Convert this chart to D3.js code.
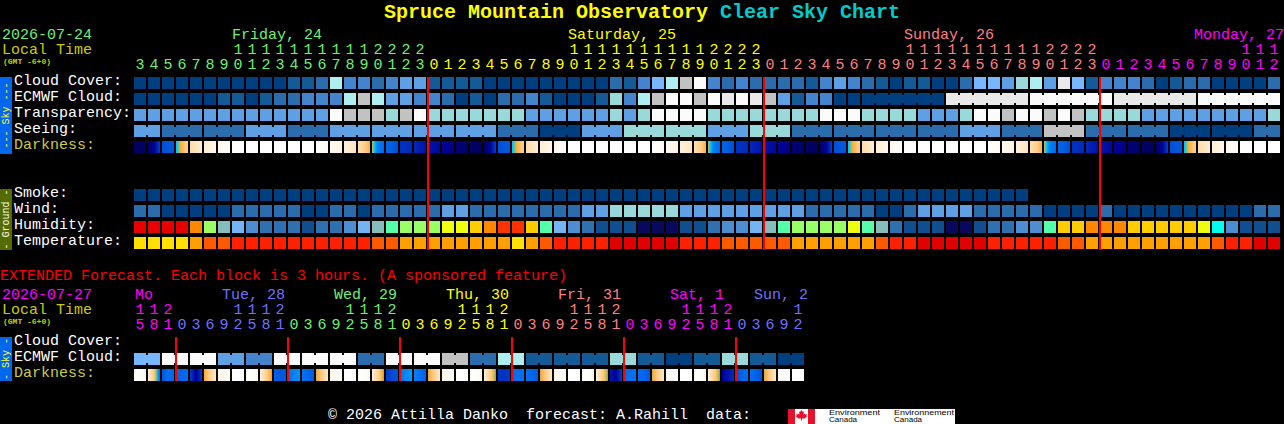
<!DOCTYPE html>
<html><head><meta charset="utf-8">
<script src="https://cdn.jsdelivr.net/npm/d3@7"></script>
<style>
html,body{margin:0;padding:0;background:#000;overflow:hidden}
svg{display:block}
text{font-family:"Liberation Mono",monospace;font-size:15px;white-space:pre;text-rendering:optimizeSpeed}
</style></head><body>
<svg id="c" width="1284" height="424"></svg>
<script>
// ---------- tick labels and categories ----------
const hoursMain=[3,4,5,6,7,8,9,10,11,12,13,14,15,16,17,18,19,20,21,22,23,
0,1,2,3,4,5,6,7,8,9,10,11,12,13,14,15,16,17,18,19,20,21,22,23,
0,1,2,3,4,5,6,7,8,9,10,11,12,13,14,15,16,17,18,19,20,21,22,23,
0,1,2,3,4,5,6,7,8,9,10,11,12];
const daysMain=["Friday, 24","Saturday, 25","Sunday, 26","Monday, 27"];
const dayColorsMain=["#70F070","#FFFF00","#FF8080","#FF00FF"];
const hoursExt=[15,18,21,0,3,6,9,12,15,18,21,0,3,6,9,12,15,18,21,0,3,6,9,12,15,18,21,0,3,6,9,12,15,18,21,0,3,6,9,12,15,18,21,0,3,6,9,12];
const daysExt=["Mo","Tue, 28","Wed, 29","Thu, 30","Fri, 31","Sat, 1","Sun, 2"];
const dayColorsExt=["#FF00FF","#7070FF","#70F070","#FFFF00","#FF8080","#FF00FF","#7070FF"];
const skyLabels=["Cloud Cover:","ECMWF Cloud:","Transparency:","Seeing:","Darkness:"];
const groundLabels=["Smoke:","Wind:","Humidity:","Temperature:"];
const extLabels=["Cloud Cover:","ECMWF Cloud:","Darkness:"];

// ---------- series values (levels) ----------
const cloudCover=[0,0,0,0,0,0,0,0,0,0,0,1,1,2,7,3,3,2,3,4,4,
1,1,1,1,0,0,0,0,0,0,0,0,0,2,1,3,5,7,8,10,3,2,3,2,2,2,2,1,3,4,3,
2,1,0,1,1,0,0,2,5,5,4,6,7,4,9,5,1,3,3,3,2,0,1,2,2,0,0,0,0,2];
const ecmwfCloud=[0,0,0,0,0,0,1,1,0,1,2,2,3,3,3,7,8,7,4,4,3,
3,2,0,1,0,2,2,3,1,0,0,0,1,6,3,7,8,10,10,8,10,9,10,9,8,4,1,3,3,0,0,
0,0,0,0,0,0,9,9,9,9,9,9,10,10,10,10,10,10,9,9,9,9,9,9,10,10,10,10,10,10];
const ecmwfBlocks=[1,1,1,1,1,1,1,1,1,1,1,1,1,1,1,1,1,1,1,1,1,1,1,1,1,1,1,1,1,1,1,1,1,1,1,1,1,1,1,1,1,1,1,1,1,1,1,1,1,1,1,1,6,6,6,6,6];
const transparency=[4,4,4,4,4,4,4,4,4,4,4,4,4,4,10,8,8,8,6,8,10,
6,6,6,6,6,6,6,4,4,4,4,4,4,6,4,6,10,10,10,10,6,6,6,6,6,6,6,6,10,10,10,
6,6,6,6,4,4,4,6,10,10,8,10,10,8,10,8,6,6,6,6,4,4,4,4,4,4,4,4,4,6];
const seeing=[4,4,2,2,2,2,2,2,4,4,4,2,2,2,4,4,4,4,4,4,4,4,4,4,4,4,2,2,2,0,0,0,4,4,4,6,6,6,6,6,6,4,4,4,6,6,6,2,2,2,2,2,2,2,2,2,2,2,2,4,4,4,2,2,2,8,8,8,2,2,2,2,2,2,0,0,0,0,0,0,2,2];
const seeingBlocks=[2,3,3,3,3,3,3,3,3,3,3,3,3,3,3,3,3,3,3,3,3,3,3,3,3,3,3,2];
const darkness=[
[6.6,6.6,6.6],[6.4,5.6,3.8],[3.5,3.4,3.3],[1.9,1.0,0.3],[-0.3,-0.8,-1.3],[-1.5,-2,-2.5],[-2.8,-3.2,-3.7],
[-4,-4,-4],[-4,-4,-4],[-4,-4,-4],[-4,-4,-4],[-4,-4,-4],[-4,-4,-4],[-3.9,-3.5,-3.1],[-3,-2.5,-2],[-1.8,-1.3,-0.7],[-0.5,0.3,1.2],[1.3,2.6,2.9],[3,3.2,3.6],[4.2,4.2,4.4],[4.4,4.7,5],
[5,5.1,5.3],[5.4,5.6,5.8],[6.2,6.2,6.4],
[6.6,6.6,6.6],[6.4,5.6,3.8],[3.5,3.4,3.3],[1.9,1.0,0.3],[-0.3,-0.8,-1.3],[-1.5,-2,-2.5],[-2.8,-3.2,-3.7],
[-4,-4,-4],[-4,-4,-4],[-4,-4,-4],[-4,-4,-4],[-4,-4,-4],[-4,-4,-4],[-3.9,-3.5,-3.1],[-3,-2.5,-2],[-1.8,-1.3,-0.7],[-0.5,0.3,1.2],[1.3,2.6,2.9],[3,3.2,3.6],[4.2,4.2,4.4],[4.4,4.7,5],
[5,5.1,5.3],[5.4,5.6,5.8],[6.2,6.2,6.4],
[6.6,6.6,6.6],[6.4,5.6,3.8],[3.5,3.4,3.3],[1.9,1.0,0.3],[-0.3,-0.8,-1.3],[-1.5,-2,-2.5],[-2.8,-3.2,-3.7],
[-4,-4,-4],[-4,-4,-4],[-4,-4,-4],[-4,-4,-4],[-4,-4,-4],[-4,-4,-4],[-3.9,-3.5,-3.1],[-3,-2.5,-2],[-1.8,-1.3,-0.7],[-0.5,0.3,1.2],[1.3,2.6,2.9],[3,3.2,3.6],[4.2,4.2,4.4],[4.4,4.7,5],
[5,5.1,5.3],[5.4,5.6,5.8],[6.2,6.2,6.4],
[6.6,6.6,6.6],[6.4,5.6,3.8],[3.5,3.4,3.3],[1.9,1.0,0.3],[-0.3,-0.8,-1.3],[-1.5,-2,-2.5],[-2.8,-3.2,-3.7],
[-4,-4,-4],[-4,-4,-4],[-4,-4,-4]];
const smoke=[0,0,0,0,0,0,0,0,0,0,0,0,0,0,0,0,0,0,0,0,0,0,0,0,0,0,0,0,0,0,0,0,0,0,0,0,0,0,0,0,0,0,0,0,0,0,0,0,0,0,0,0,0,0,0,0,0,0,0,0,0,0,0,0];
const wind=[2,2,0,0,0,0,0,2,2,2,2,2,0,0,2,2,0,2,2,2,2,
2,4,4,2,2,2,2,2,2,2,2,4,4,6,6,6,6,6,4,4,4,4,4,4,4,4,4,2,2,2,2,
2,0,0,2,4,4,4,4,2,2,2,2,2,0,0,0,0,2,0,0,0,0,0,0,0,0,0,0,2,2];
const humidity=[12,12,12,12,10,7,5,4,3,2,2,2,1,2,2,3,4,5,6,7,7,
7,8,8,9,10,11,11,9,6,4,3,2,1,1,1,0,0,0,1,1,2,3,3,4,5,6,7,7,7,7,8,
6,5,2,1,1,1,0,0,1,2,2,3,3,6,9,9,10,10,10,9,9,9,9,9,8,13,3,1,1,1];
const temperature=[4,4,4,4,3,2,2,1,1,1,1,1,1,1,1,1,1,2,2,3,3,
3,3,3,3,3,3,4,3,2,1,1,1,1,0,0,0,0,0,1,1,1,2,2,2,2,2,3,3,3,3,3,
3,2,1,1,0,0,0,0,0,1,1,1,1,1,2,2,3,3,3,3,3,3,3,3,3,2,1,1,0,0];
const extEcmwf=[5,5,10,10,10,10,4,4,3,3,10,10,10,10,10,10,2,2,10,10,10,10,8,8,2,2,7,7,1,1,1,1,1,1,6,6,1,1,0,0,1,1,6,6,1,1,0,0];
const extBlocks=[2,2,2,2,2,2,2,2,2,2,2,2,2,2,2,2,2,2,2,2,2,2,2,2];
const extDarkness=[
[-4,-3.5,-2.8],[-1.6,0.6,2.9],[3.4,2.8,3],[3.1,3,2.9],[3.9,5.6,3.9],[1.3,0.3,-1],
[-2.2,-3,-3.7],[-4,-4,-4],[-3.9,-3.5,-3],[-1.6,0.3,1.5],[3.1,3.4,3.3],[2.9,2.5,2.3],
[2.7,3,3.3],[1.4,0.4,-1],[-2.4,-3.2,-3.8],[-4,-4,-4],[-3.9,-3.5,-3],[-1.5,0.3,1.6],[4,3.6,3.4],[2.8,2.4,2.2],
[2.5,2.8,3.2],[1.4,0.4,-1],[-2.4,-3.2,-3.8],[-4,-4,-4],[-3.9,-3.5,-3],[-1.5,0.3,1.8],[4.1,4.2,4],[2.9,2.8,2.8],
[2.8,3,3.3],[1.4,0.4,-1],[-2.4,-3.2,-3.8],[-4,-4,-4],[-3.9,-3.5,-3],[-1.5,0.3,1.8],[4.9,5.6,3.7],[2.9,2.8,2.8],
[2.9,3,3.4],[1.4,0.4,-1],[-3,-3.5,-3.9],[-4,-4,-4],[-3.9,-3.5,-3],[-1.5,0.3,1.8],[5.6,5,4.2],[3.4,3.1,2.8],
[2.8,3.1,3.5],[1.4,0.4,-1],[-3,-3.5,-3.9],[-4,-4,-4]];

// ---------- colour tables ----------
const bluePalette=["#003F7F","#135A96","#2B6CAD","#4384CC","#5F9FE4","#78B7FF","#99D9D9","#AEEEEE","#C2C2C2","#E9E9E9","#FBFBFB"];
const humidityPalette=["#08085C","#0F4F8F","#2F70B0","#4D8ED0","#72B4F4","#85BDBD","#55FFAA","#99FF66","#EEFF11","#FFCC00","#FF8800","#FF3300","#E80000","#00FFEE"];
const temperaturePalette=["#E00000","#FF2000","#FF5A00","#FFA000","#FFE000"];
const darkStops=[-4,-2.5,-1,0.5,1.3,1.5,1.8,2.3,2.8,3.5,4.2,5,5.6,6.2,6.8];
const darkColors=["#FFFFFF","#FFF6EA","#FFE8C8","#FFCC88","#FFA830","#60C890","#00C8FF","#0090F8","#0070F0","#0050D8","#0030C0","#0010A8","#000090","#000070","#000058"];

// ---------- layout ----------
const svg=d3.select("#c");
const col=d3.scaleLinear().domain([0,1]).range([134,148]);
const cellW=12, cellH=12, notch=2;
const blueColor=d3.scaleOrdinal().domain(d3.range(bluePalette.length)).range(bluePalette);
const humColor=d3.scaleOrdinal().domain(d3.range(humidityPalette.length)).range(humidityPalette);
const tempColor=d3.scaleOrdinal().domain(d3.range(temperaturePalette.length)).range(temperaturePalette);
const darkColor=d3.scaleLinear().domain(darkStops).range(darkColors).clamp(true);
const defs=svg.append("defs");
let gradId=0;

function text(s,x,y,fill,opt={}){
  const t=svg.append("text").attr("x",x).attr("y",y).attr("fill",fill).text(s);
  if(opt.size)t.style("font-size",opt.size+"px");
  if(opt.bold)t.style("font-weight","bold");
  if(opt.anchor)t.attr("text-anchor",opt.anchor);
  if(opt.family)t.style("font-family",opt.family);
  if(opt.length)t.attr("textLength",opt.length).attr("lengthAdjust","spacingAndGlyphs");
  return t;
}
function row(values,top,color,blocks){
  const g=svg.append("g");
  g.selectAll("rect.cell").data(values).join("rect").attr("class","cell")
    .attr("x",(d,i)=>col(i)).attr("y",top).attr("width",cellW).attr("height",cellH)
    .attr("fill",d=>color(d));
  if(blocks){
    let pos=0;const joins=[];
    blocks.forEach(b=>{for(let k=0;k<b-1;k++)joins.push(pos+k);pos+=b;});
    g.selectAll("rect.join").data(joins).join("rect").attr("class","join")
      .attr("x",i=>col(i)+cellW).attr("y",top+notch).attr("width",col(1)-col(0)-cellW).attr("height",cellH-2*notch)
      .attr("fill",i=>color(values[i]));
  }
}
function darkRow(values,top){
  const g=svg.append("g");
  g.selectAll("rect").data(values).join("rect")
    .attr("x",(d,i)=>col(i)).attr("y",top).attr("width",cellW).attr("height",cellH)
    .attr("fill",d=>{
      const id="dk"+(gradId++);
      const along=d3.scaleLinear().domain([0,0.5,1]).range(d);
      const lg=defs.append("linearGradient").attr("id",id);
      d3.range(0,1.0001,1/12).forEach(u=>{
        lg.append("stop").attr("offset",u).attr("stop-color",darkColor(along(u)));
      });
      return "url(#"+id+")";
    });
}
function hourLabels(hours,colors,yTens,yUnits){
  let day=0;
  hours.forEach((h,i)=>{
    if(h===0&&i>0)day++;
    const c=colors[day], x=col(i)+cellW/2;
    if(h>=10)text(Math.floor(h/10),x,yTens,c,{anchor:"middle"});
    text(h%10,x,yUnits,c,{anchor:"middle"});
  });
}
function sideBar(y0,y1,fill,label,labelFill){
  svg.append("rect").attr("x",0).attr("y",y0).attr("width",12).attr("height",y1-y0).attr("fill",fill);
  svg.append("text").attr("transform",`translate(9,${(y0+y1)/2}) rotate(-90)`)
    .attr("text-anchor","middle").attr("fill",labelFill).style("font-size","10px").text(label);
}
function redLines(cols,y0,y1){
  svg.append("g").selectAll("rect").data(cols).join("rect")
    .attr("x",c=>col(c)-1).attr("y",y0).attr("width",2).attr("height",y1-y0).attr("fill","#FF0000");
}

// ---------- title ----------
const title=svg.append("text").attr("x",384).attr("y",18).style("font-size","20px").style("font-weight","bold");
title.append("tspan").attr("fill","#FFFF00").text("Spruce Mountain Observatory ");
title.append("tspan").attr("fill","#00CCCC").text("Clear Sky Chart");

// ---------- main header ----------
text("2026-07-24",2,39,"#70F070");
text("Local Time",2,54,"#CCCC00");
text("(GMT -6+0)",3,64,"#CCCC00",{size:8,bold:true});
{ let day=0;
  hoursMain.forEach((h,i)=>{
    if(h===0&&i>0)day++;
    if(h===10&&day<3)text(daysMain[day],col(i),39,dayColorsMain[day]);
  });
  text(daysMain[3],1194,39,dayColorsMain[3]);
}
hourLabels(hoursMain,dayColorsMain,54,69);

// ---------- sky block ----------
sideBar(77,154,"#0066EE","--- Sky ---","#FFFF33");
skyLabels.forEach((s,i)=>text(s,14,85+16*i,i===4?"#CCCC44":"#FFFFFF"));
row(cloudCover,77,blueColor);
row(ecmwfCloud,93,blueColor,ecmwfBlocks);
row(transparency,109,blueColor);
row(seeing,125,blueColor,seeingBlocks);
darkRow(darkness,141);

// ---------- ground block ----------
sideBar(189,250,"#556B00","- Ground -","#FFFFE0");
groundLabels.forEach((s,i)=>text(s,14,197+16*i,"#FFFFFF"));
row(smoke,189,blueColor);
row(wind,205,blueColor);
row(humidity,221,humColor);
row(temperature,237,tempColor);
redLines(hoursMain.map((h,i)=>h===0?i:-1).filter(i=>i>=0),77,250);

// ---------- extended ----------
text("EXTENDED Forecast. Each block is 3 hours. (A sponsored feature)",0,280,"#FF0000");
text("2026-07-27",2,299,"#FF00FF");
text("Local Time",2,314,"#CCCC00");
text("(GMT -6+0)",3,324,"#CCCC00",{size:8,bold:true});
const extDayCols=[0,6,14,22,30,38,44];
daysExt.forEach((s,i)=>text(s,col(extDayCols[i])+(i?4:1),299,dayColorsExt[i]));
hourLabels(hoursExt,dayColorsExt,314,329);
sideBar(337,381,"#0066EE","- Sky -","#FFFF33");
extLabels.forEach((s,i)=>text(s,14,345+16*i,i===2?"#CCCC44":"#FFFFFF"));
row(extEcmwf,353,blueColor,extBlocks);
darkRow(extDarkness,369);
redLines(hoursExt.map((h,i)=>h===0?i:-1).filter(i=>i>=0),337,381);

// ---------- footer ----------
text("\u00A9 2026 Attilla Danko  forecast: A.Rahill  data:",328,419,"#FFFFFF");
svg.append("rect").attr("x",788).attr("y",409).attr("width",167).attr("height",15).attr("fill","#FFFFFF");
svg.append("rect").attr("x",788).attr("y",409).attr("width",7).attr("height",15).attr("fill","#E8112D");
svg.append("rect").attr("x",808).attr("y",409).attr("width",7).attr("height",15).attr("fill","#E8112D");
svg.append("path").attr("d","M801.5 410l1.5 2 1-.5-.5 3 1.5-1 .5 1 1.5-.3-.5 1.5.5.8-2.5 2h-2.5v2h-1v-2h-2.5l-2.5-2 .5-.8-.5-1.5 1.5.3.5-1 1.5 1-.5-3 1 .5z").attr("fill","#E8112D");
const sans={size:8,family:"'Liberation Sans',sans-serif"};
text("Environment",829,415,"#000000",{...sans,length:51});
text("Environnement",894,415,"#000000",{...sans,length:60});
text("Canada",829,422,"#000000",sans);
text("Canada",894,422,"#000000",sans);
</script>
</body></html>
